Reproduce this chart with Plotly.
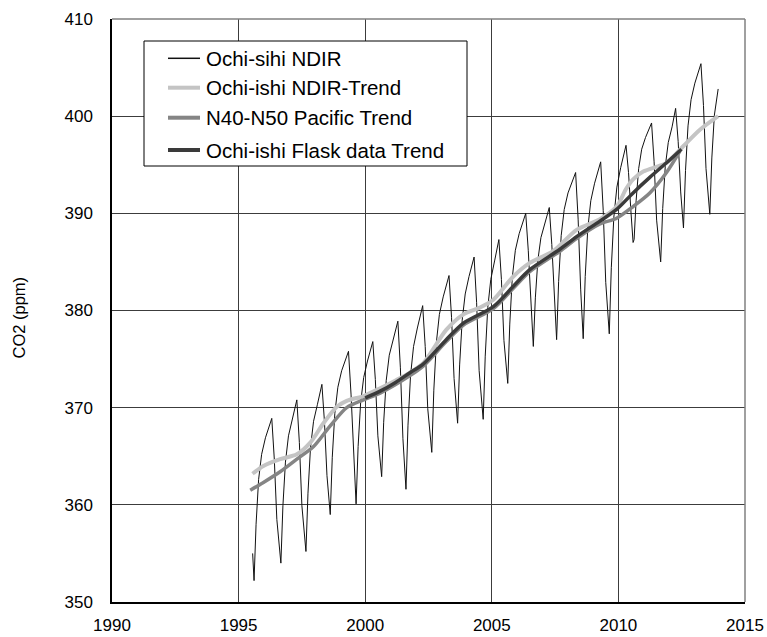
import plotly.graph_objects as go

# Continuous NDIR record at Ochi-ishi (decimal year, CO2 ppm)
ndir_year = [
    1995.555, 1995.57, 1995.61,
    1995.69, 1995.79, 1995.91, 1996.06, 1996.31, 1996.41, 1996.51, 1996.67,
    1996.75, 1996.85, 1996.97, 1997.12, 1997.30, 1997.40, 1997.50, 1997.66,
    1997.74, 1997.84, 1997.96, 1998.11, 1998.29, 1998.39, 1998.49, 1998.62,
    1998.70, 1998.80, 1998.92, 1999.07, 1999.34, 1999.44, 1999.54, 1999.64,
    1999.72, 1999.82, 1999.94, 2000.09, 2000.30, 2000.40, 2000.50, 2000.65,
    2000.73, 2000.83, 2000.95, 2001.10, 2001.29, 2001.39, 2001.49, 2001.61,
    2001.69, 2001.79, 2001.91, 2002.06, 2002.27, 2002.37, 2002.47, 2002.63,
    2002.71, 2002.81, 2002.93, 2003.08, 2003.31, 2003.41, 2003.51, 2003.65,
    2003.73, 2003.83, 2003.95, 2004.10, 2004.30, 2004.40, 2004.50, 2004.66,
    2004.74, 2004.84, 2004.96, 2005.11, 2005.28, 2005.38, 2005.48, 2005.63,
    2005.71, 2005.81, 2005.93, 2006.08, 2006.34, 2006.44, 2006.54, 2006.64,
    2006.72, 2006.82, 2006.94, 2007.09, 2007.27, 2007.37, 2007.47, 2007.56,
    2007.64, 2007.74, 2007.86, 2008.01, 2008.31, 2008.41, 2008.51, 2008.61,
    2008.69, 2008.79, 2008.91, 2009.06, 2009.30, 2009.40, 2009.50, 2009.64,
    2009.72, 2009.82, 2009.94, 2010.09, 2010.30, 2010.40, 2010.50, 2010.58, 2010.62,
    2010.70, 2010.80, 2010.92, 2011.07, 2011.31, 2011.41, 2011.51, 2011.67,
    2011.75, 2011.85, 2011.97, 2012.12, 2012.26, 2012.36, 2012.46, 2012.57,
    2012.65, 2012.75, 2012.87, 2013.02, 2013.26, 2013.36, 2013.46, 2013.61,
    2013.69, 2013.79, 2013.94,
]
ndir_co2 = [
    355.0, 353.5, 352.2,
    358.0, 362.6, 365.2, 366.9, 368.9, 364.7, 358.5, 354.0,
    359.9, 364.4, 367.1, 368.8, 370.8, 366.4, 359.9, 355.2,
    361.2, 365.9, 368.6, 370.3, 372.4, 368.6, 363.0, 359.0,
    364.9, 369.4, 372.1, 373.8, 375.8, 371.4, 364.8, 360.1,
    366.0, 370.5, 373.1, 374.8, 376.8, 372.9, 367.1, 362.9,
    368.5, 372.8, 375.4, 377.0, 378.9, 374.1, 366.8, 361.6,
    368.2, 373.3, 376.3, 378.2, 380.5, 376.3, 369.9, 365.4,
    371.8, 376.7, 379.6, 381.4, 383.6, 379.3, 373.0, 368.4,
    374.4, 379.0, 381.7, 383.5, 385.5, 380.8, 373.8, 368.8,
    375.3, 380.3, 383.2, 385.1, 387.3, 383.2, 376.9, 372.5,
    378.6, 383.4, 386.2, 387.9, 390.0, 386.2, 380.4, 376.3,
    381.3, 385.2, 387.5, 388.9, 390.6, 386.8, 381.1, 377.0,
    383.0, 387.7, 390.4, 392.1, 394.2, 389.4, 382.2, 377.1,
    383.5, 388.4, 391.3, 393.1, 395.3, 390.3, 382.9, 377.6,
    384.4, 389.6, 392.7, 394.7, 397.0, 394.2, 390.0, 387.0, 387.3,
    391.3, 394.6, 396.6, 397.8, 399.3, 395.3, 389.3, 385.0,
    390.5, 394.8, 397.3, 398.9, 400.8, 397.4, 392.2, 388.5,
    394.4, 399.0, 401.7, 403.4, 405.4, 401.1, 394.6, 389.9,
    395.7, 400.1, 402.8,
]

# Long-term trend of the NDIR record
ndir_trend_year = [
    1995.55, 1995.98, 1996.64, 1997.30, 1997.83, 1998.35, 1998.88, 1999.27,
    1999.93, 2000.59, 2001.20, 2001.77, 2002.30, 2003.20, 2003.88, 2004.53,
    2005.06, 2005.85, 2006.50, 2007.42, 2008.35, 2009.27, 2009.93, 2010.30,
    2010.58, 2010.98, 2011.64, 2011.90, 2012.56, 2013.22, 2013.94,
]
ndir_trend_co2 = [
    363.2, 364.0, 364.7, 365.2, 366.4, 368.4, 370.1, 370.7,
    371.2, 372.0, 372.8, 373.6, 374.6, 378.0, 379.6, 380.3,
    381.1, 383.5, 384.9, 386.1, 388.3, 389.4, 390.7, 392.5,
    393.5, 394.3, 394.9, 395.2, 396.9, 398.6, 400.0,
]

# N40-N50 Pacific zonal trend
pacific_year = [
    1995.46, 1995.98, 1996.64, 1997.30, 1997.96, 1998.61, 1999.27, 1999.93,
    2000.59, 2001.77, 2002.30, 2003.20, 2003.88, 2005.06, 2005.85, 2006.50,
    2007.69, 2008.35, 2009.27, 2009.93, 2010.58, 2011.24, 2011.90, 2012.43,
]
pacific_co2 = [
    361.5, 362.3, 363.4, 364.7, 366.0, 368.1, 370.0, 370.8,
    371.5, 373.3, 374.3, 376.8, 378.5, 380.2, 382.3, 384.0,
    386.1, 387.4, 388.9, 389.5, 390.7, 392.1, 394.2, 396.4,
]

# Trend of the Ochi-ishi flask samples
flask_year = [
    2000.00, 2000.59, 2001.20, 2001.77, 2002.30, 2003.20, 2003.88, 2005.06,
    2005.85, 2006.50, 2007.69, 2008.35, 2009.27, 2009.93, 2010.58, 2011.24,
    2011.90, 2012.49,
]
flask_co2 = [
    371.0, 371.7, 372.6, 373.6, 374.5, 377.0, 378.7, 380.4,
    382.5, 384.2, 386.3, 387.6, 389.2, 390.4, 392.1, 393.7,
    395.2, 396.6,
]

x_ticks = [1990, 1995, 2000, 2005, 2010, 2015]
y_ticks = [350, 360, 370, 380, 390, 400, 410]

series_names = [
    "Ochi-sihi NDIR",
    "Ochi-ishi NDIR-Trend",
    "N40-N50 Pacific Trend",
    "Ochi-ishi Flask data Trend",
]
series_colors = ["#111111", "#c4c4c4", "#858585", "#3a3a3a"]
series_widths = [1, 4, 3.5, 3.5]
legend_widths = [1.5, 4, 4, 4]

FONT = "Arial, Liberation Sans, sans-serif"

# Figure geometry in pixels (used to place the boxed key inside the plot)
W, H = 767, 637
ML, MR, MT, MB = 112, 22, 19, 35
PW, PH = W - ML - MR, H - MT - MB


def px_x(px):
    return (px - ML) / PW


def px_y(py):
    return (H - MB - py) / PH


fig = go.Figure()
series = [
    (ndir_year, ndir_co2, None),
    (ndir_trend_year, ndir_trend_co2, "spline"),
    (pacific_year, pacific_co2, "spline"),
    (flask_year, flask_co2, "spline"),
]
for (xs, ys, shape), name, color, width in zip(series, series_names, series_colors, series_widths):
    line = dict(color=color, width=width)
    if shape:
        line.update(shape=shape, smoothing=0.8)
    fig.add_trace(go.Scatter(x=xs, y=ys, mode="lines", name=name, line=line, showlegend=False))

shapes = [
    # gray frame on the top and right sides of the plot area
    dict(type="line", xref="paper", yref="paper", x0=0, x1=1, y0=1, y1=1,
         line=dict(color="#808080", width=1.5)),
    dict(type="line", xref="paper", yref="paper", x0=1, x1=1, y0=0, y1=1,
         line=dict(color="#808080", width=1.5)),
    # key box
    dict(type="rect", xref="paper", yref="paper",
         x0=px_x(144), x1=px_x(467), y0=px_y(166), y1=px_y(41),
         fillcolor="white", line=dict(color="black", width=1), layer="above"),
]
annotations = [dict(
    text="CO2 (ppm)", textangle=-90, showarrow=False,
    xref="paper", yref="paper", x=px_x(18), y=px_y(317.5),
    xanchor="center", yanchor="middle",
    font=dict(family=FONT, size=16.5, color="black"),
)]
row_y = [58.3, 87.7, 117.7, 150]
for name, color, lw, ry in zip(series_names, series_colors, legend_widths, row_y):
    shapes.append(dict(type="line", xref="paper", yref="paper",
                       x0=px_x(168), x1=px_x(200), y0=px_y(ry), y1=px_y(ry),
                       line=dict(color=color, width=lw), layer="above"))
    annotations.append(dict(text=name, showarrow=False, xref="paper", yref="paper",
                            x=px_x(204), y=px_y(ry), xanchor="left", yanchor="middle",
                            font=dict(family=FONT, size=20.5, color="black")))

fig.update_layout(
    width=W, height=H,
    margin=dict(l=ML, r=MR, t=MT, b=MB, autoexpand=False),
    paper_bgcolor="white", plot_bgcolor="white",
    font=dict(family=FONT, color="black", size=17),
    showlegend=False,
    shapes=shapes,
    annotations=annotations,
)
fig.update_xaxes(
    range=[1990, 2015], tickvals=x_ticks, ticktext=[str(v) for v in x_ticks],
    showgrid=True, gridcolor="#3c3c3c", gridwidth=1,
    showline=True, linecolor="black", linewidth=1.5, mirror=False,
    ticks="", ticklabelstandoff=7, zeroline=False, automargin=False,
    tickfont=dict(family=FONT, size=17, color="black"),
)
fig.update_yaxes(
    range=[350, 410], tickvals=y_ticks, ticktext=[str(v) for v in y_ticks],
    showgrid=True, gridcolor="#3c3c3c", gridwidth=1,
    showline=True, linecolor="black", linewidth=1.5, mirror=False,
    ticks="", ticklabelstandoff=14, zeroline=False, automargin=False,
    tickfont=dict(family=FONT, size=17, color="black"),
)

fig.write_html("out.html")
